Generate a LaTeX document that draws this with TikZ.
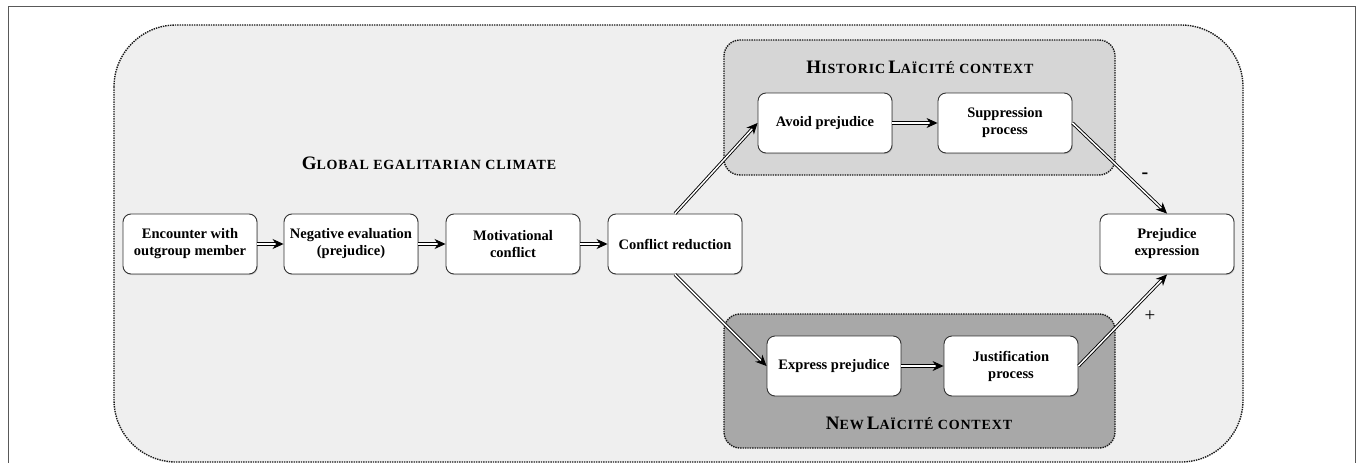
\documentclass[tikz,border=0pt]{standalone}
\usepackage{fontspec}
\setmainfont{Liberation Serif}
\newfontfamily\spaced[LetterSpace=6]{Liberation Serif}
\usetikzlibrary{arrows.meta,shadows}
\definecolor{climate}{HTML}{EFEFEF}
\definecolor{histctx}{HTML}{D6D6D6}
\definecolor{newctx}{HTML}{A8A8A8}
% fake small caps: big first letter, smaller rest
\newcommand{\capbig}[1]{{\fontsize{19}{21}\selectfont #1}}
\newcommand{\capsmall}[1]{{\fontsize{14}{16}\selectfont #1}}
\tikzset{
  box/.style={draw=black!80, line width=0.9pt, fill=white, rounded corners=8pt,
    minimum width=134pt, minimum height=60pt, align=center,
    font=\fontsize{14.5}{17}\selectfont\bfseries,
    drop shadow={shadow xshift=0.8pt, shadow yshift=-1pt, opacity=0.35}},
  zone/.style={draw=black!90, dash pattern=on 1.4pt off 1pt, line width=1.4pt},
  link/.style={double, double distance=1.5pt, line width=0.9pt,
    -{Stealth[length=11pt,width=10pt,inset=3.5pt]}},
  title/.style={font=\spaced\bfseries, inner sep=0pt}
}
\begin{document}
\begin{tikzpicture}[x=1pt, y=-1pt]
  \useasboundingbox (0,0) rectangle (1357,463);
  \draw[black!65, line width=0.8pt] (8,6) rectangle (1355,480);
  % contexts
  \draw[zone, fill=climate, rounded corners=62pt] (114,25) rectangle (1243,462);
  \draw[zone, fill=histctx, rounded corners=16pt] (724,40) rectangle (1115,175);
  \draw[zone, fill=newctx, rounded corners=16pt] (724,314) rectangle (1115,448);
  \node[title] (global) at (429,163) {\capbig{G}\capsmall{LOBAL EGALITARIAN CLIMATE}};
  \node[title] (hist) at (920,67) {\capbig{H}\capsmall{ISTORIC} \capbig{L}\capsmall{AÏCITÉ CONTEXT}};
  \node[title] (new) at (919,423) {\capbig{N}\capsmall{EW} \capbig{L}\capsmall{AÏCITÉ CONTEXT}};
  % steps
  \node[box] (enc) at (190,244) {Encounter with\\outgroup member};
  \node[box] (neg) at (351,244) {Negative evaluation\\(prejudice)};
  \node[box] (mot) at (513,244) {Motivational\\conflict};
  \node[box] (red) at (675,244) {Conflict reduction};
  \node[box] (avoid) at (825,123) {Avoid prejudice};
  \node[box] (supp) at (1005,123) {Suppression\\process};
  \node[box] (expr) at (834,366) {Express prejudice};
  \node[box] (just) at (1011,366) {Justification\\process};
  \node[box] (pe) at (1167,244) {Prejudice\\expression};
  \draw[link] (enc) -- (neg);
  \draw[link] (neg) -- (mot);
  \draw[link] (mot) -- (red);
  \draw[link] (red.north) -- (avoid.west);
  \draw[link] (red.south) -- (expr.west);
  \draw[link] (avoid) -- (supp);
  \draw[link] (expr) -- (just);
  \draw[link] (supp.east) -- (pe.north);
  \draw[link] (just.east) -- (pe.south);
  \node[font=\fontsize{20}{22}\selectfont\bfseries] (minus) at (1145,176) {-};
  \node[font=\fontsize{19}{21}\selectfont] (plus) at (1150,316) {+};
\end{tikzpicture}
\end{document}
